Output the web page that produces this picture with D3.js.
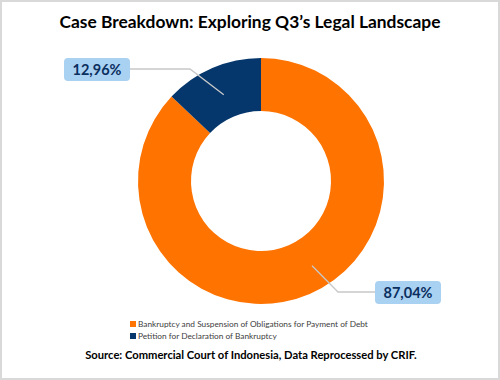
<!DOCTYPE html>
<html><head><meta charset="utf-8">
<script src="https://cdn.jsdelivr.net/npm/d3@7"></script>
<style>body{margin:0;background:#fff;}svg{display:block;}</style>
</head><body>
<svg id="chart" width="500" height="380"></svg>
<script>
const categories = ["Bankruptcy and Suspension of Obligations for Payment of Debt", "Petition for Declaration of Bankruptcy"];
const values = [87.04, 12.96];
const valueLabels = ["87,04%", "12,96%"];
const colors = ["#FF7300", "#06376C"];
const title = "Case Breakdown: Exploring Q3\u2019s Legal Landscape";
const source = "Source: Commercial Court of Indonesia, Data Reprocessed by CRIF.";

const FONT = "Lato, 'Open Sans', sans-serif";
const svg = d3.select("#chart");
svg.append("rect").attr("x",1).attr("y",1).attr("width",498).attr("height",378)
  .attr("fill","#fff").attr("stroke","#d9d9d9").attr("stroke-width",2);

svg.append("text").attr("x",250).attr("y",28).attr("text-anchor","middle")
  .attr("font-family",FONT).attr("font-weight","bold")
  .attr("font-size",17.4).attr("fill","#000").text(title);

const cx = 261, cy = 181, rOuter = 123, rInner = 70;
const pie = d3.pie().sort(null).value(d => d);
const arcs = pie(values);
const arc = d3.arc().innerRadius(rInner).outerRadius(rOuter);
const g = svg.append("g").attr("transform",`translate(${cx},${cy})`);
g.selectAll("path").data(arcs).join("path")
  .attr("d", arc).attr("fill",(d,i)=>colors[i]);

// labels with leader lines
const labelPos = [
  {ang:2.60, r:99, elbow:[77,111], box:[114,100,66,23]},
  {ang:null, r:94, elbow:[-71,-112], box:[-197,-123,66,23]}
];
arcs.forEach((a,i)=>{
  const p = labelPos[i];
  const ang = p.ang !== null ? p.ang : (a.startAngle + a.endAngle)/2;
  const sx = Math.sin(ang)*p.r, sy = -Math.cos(ang)*p.r;
  const [ex,ey] = p.elbow;
  const [bx,by,bw,bh] = p.box;
  const tx = i===0 ? bx : bx+bw;
  g.append("polyline").attr("points",`${sx},${sy} ${ex},${ey} ${tx},${ey}`)
    .attr("fill","none").attr("stroke","#c8c8c8").attr("stroke-width",1.3);
  g.append("rect").attr("x",bx).attr("y",by).attr("width",bw).attr("height",bh)
    .attr("rx",4).attr("fill","#A9D1F2");
  g.append("text").attr("x",bx+bw/2).attr("y",by+bh/2+5).attr("text-anchor","middle")
    .attr("font-family",FONT).attr("font-weight","bold")
    .attr("font-size",14.5).attr("fill","#0B2F5E").text(valueLabels[i]);
});

// legend
const lg = svg.append("g").attr("transform","translate(130,321)");
categories.forEach((c,i)=>{
  const row = lg.append("g").attr("transform",`translate(0,${i*12})`);
  row.append("rect").attr("width",6).attr("height",6).attr("fill",colors[i]);
  row.append("text").attr("x",8).attr("y",6).attr("font-family",FONT)
    .attr("font-size",8.3).attr("fill","#404040").text(c);
});

svg.append("text").attr("x",251).attr("y",359).attr("text-anchor","middle")
  .attr("font-family",FONT).attr("font-weight","bold")
  .attr("font-size",11.2).attr("fill","#000").text(source);
</script>
</body></html>
